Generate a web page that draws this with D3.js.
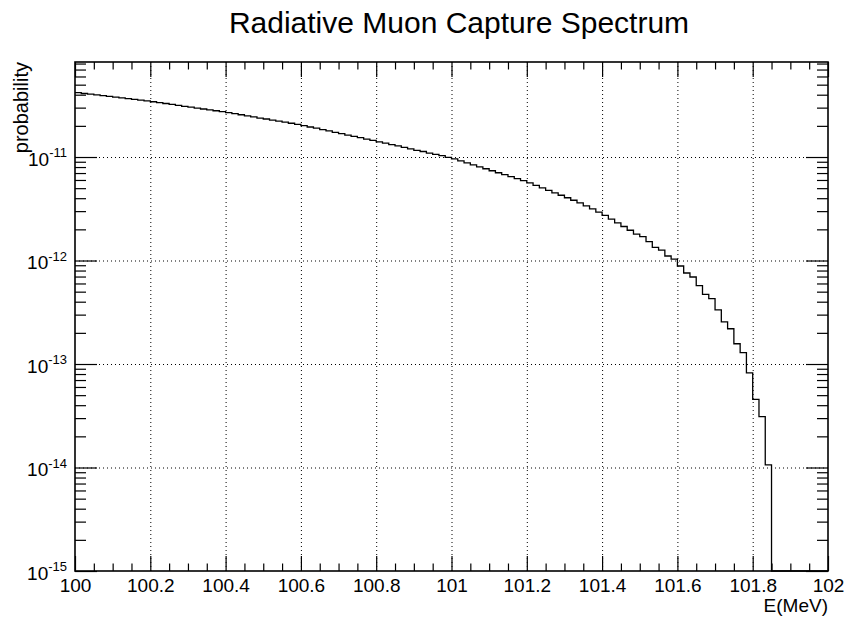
<!DOCTYPE html>
<html>
<head>
<meta charset="utf-8">
<script src="https://cdn.jsdelivr.net/npm/d3@7"></script>
<style>
  html, body { margin: 0; padding: 0; background: #fff; }
  svg { display: block; font-family: "Liberation Sans", Arial, Helvetica, sans-serif; }
  .grid line { stroke: #000; stroke-width: 1; stroke-dasharray: 1 3; }
  .grid .domain, .ticks .domain, .labels .domain { display: none; }
  .ticks line { stroke: #000; stroke-width: 1.2; }
</style>
</head>
<body>
<svg id="chart" width="846" height="623"></svg>
<script>
// Spectrum: 120 bins between 100 and 102 MeV
const chartTitle = "Radiative Muon Capture Spectrum";
const xTitle = "E(MeV)";
const yTitle = "probability";
const energyRange = [100, 102];
const binCount = 120;
const probability = [
  4.18e-11, 4.11e-11, 4.05e-11, 3.98e-11, 3.92e-11, 3.85e-11, 3.79e-11, 3.73e-11, 3.66e-11, 3.60e-11,
  3.54e-11, 3.49e-11, 3.42e-11, 3.35e-11, 3.29e-11, 3.22e-11, 3.16e-11, 3.09e-11, 3.03e-11, 2.97e-11,
  2.91e-11, 2.86e-11, 2.80e-11, 2.74e-11, 2.68e-11, 2.62e-11, 2.56e-11, 2.50e-11, 2.44e-11, 2.38e-11,
  2.33e-11, 2.27e-11, 2.22e-11, 2.17e-11, 2.12e-11, 2.07e-11, 2.01e-11, 1.95e-11, 1.90e-11, 1.84e-11,
  1.79e-11, 1.73e-11, 1.68e-11, 1.63e-11, 1.58e-11, 1.54e-11, 1.49e-11, 1.45e-11, 1.40e-11, 1.36e-11,
  1.32e-11, 1.28e-11, 1.24e-11, 1.20e-11, 1.16e-11, 1.13e-11, 1.09e-11, 1.06e-11, 1.03e-11, 9.94e-12,
  9.58e-12, 9.17e-12, 8.78e-12, 8.40e-12, 8.04e-12, 7.70e-12, 7.37e-12, 7.05e-12, 6.75e-12, 6.46e-12,
  6.19e-12, 5.92e-12, 5.63e-12, 5.33e-12, 5.04e-12, 4.77e-12, 4.51e-12, 4.27e-12, 4.04e-12, 3.82e-12,
  3.61e-12, 3.37e-12, 3.15e-12, 2.94e-12, 2.73e-12, 2.51e-12, 2.31e-12, 2.13e-12, 1.96e-12, 1.80e-12,
  1.70e-12, 1.52e-12, 1.34e-12, 1.26e-12, 1.105e-12, 1.03e-12, 8.85e-13, 7.57e-13, 6.93e-13, 5.71e-13,
  4.71e-13, 4.28e-13, 3.33e-13, 2.55e-13, 2.19e-13, 1.57e-13, 1.29e-13, 8.2e-14, 4.56e-14, 3.1e-14,
  1.06e-14, 0, 0, 0, 0, 0, 0, 0, 0, 0
];
const xTickValues = [100, 100.2, 100.4, 100.6, 100.8, 101, 101.2, 101.4, 101.6, 101.8, 102];
const xTickLabels = ["100", "100.2", "100.4", "100.6", "100.8", "101", "101.2", "101.4", "101.6", "101.8", "102"];
const yDecadeExponents = [-15, -14, -13, -12, -11];
const yRange = [1e-15, 8.28e-11];

const svg = d3.select("#chart");
const margin = { left: 75, right: 18, top: 62, bottom: 52 };
const W = 846 - margin.left - margin.right;
const H = 623 - margin.top - margin.bottom;

const x = d3.scaleLinear().domain(energyRange).range([0, W]);
const y = d3.scaleLog().domain(yRange).range([H, 0]);

const g = svg.append("g").attr("transform", `translate(${margin.left},${margin.top})`);

// tick positions
const yMajor = yDecadeExponents.map(e => Math.pow(10, e));
const yMinor = [];
yDecadeExponents.forEach(e => {
  for (let m = 2; m <= 9; m++) {
    const v = m * Math.pow(10, e);
    if (v <= yRange[1]) yMinor.push(v);
  }
});
const xMinor = d3.range(0, 41).filter(i => i % 4 !== 0).map(i => energyRange[0] + i * 0.05);

// dotted grid at interior major ticks
g.append("g").attr("class", "grid")
  .call(d3.axisBottom(x).tickValues(xTickValues.slice(1, -1)).tickSize(H).tickFormat(""));
g.append("g").attr("class", "grid")
  .call(d3.axisLeft(y).tickValues(yMajor.slice(1)).tickSize(-W).tickFormat(""));

// inward ticks on all four sides
const tickAxes = [
  [d3.axisBottom(x).tickValues(xTickValues), 15, `translate(0,${H})`],
  [d3.axisBottom(x).tickValues(xMinor), 7.5, `translate(0,${H})`],
  [d3.axisTop(x).tickValues(xTickValues), 15, null],
  [d3.axisTop(x).tickValues(xMinor), 7.5, null],
  [d3.axisLeft(y).tickValues(yMajor), 22, null],
  [d3.axisLeft(y).tickValues(yMinor), 11, null],
  [d3.axisRight(y).tickValues(yMajor), 22, `translate(${W},0)`],
  [d3.axisRight(y).tickValues(yMinor), 11, `translate(${W},0)`]
];
tickAxes.forEach(([ax, len, tr]) => {
  const sel = g.append("g").attr("class", "ticks");
  if (tr) sel.attr("transform", tr);
  sel.call(ax.tickSize(-len).tickFormat(""));
});

// histogram outline
const pts = probability.map((v, i) => [energyRange[0] + i * (energyRange[1] - energyRange[0]) / binCount, v]);
pts.push([energyRange[1], probability[binCount - 1]]);
const line = d3.line()
  .x(d => x(d[0]))
  .y(d => d[1] > 0 ? y(d[1]) : H)
  .curve(d3.curveStepAfter);
g.append("path")
  .attr("d", line(pts))
  .attr("fill", "none")
  .attr("stroke", "#000")
  .attr("stroke-width", 1.3);

// frame
g.append("rect")
  .attr("x", 0).attr("y", 0).attr("width", W).attr("height", H)
  .attr("fill", "none").attr("stroke", "#000").attr("stroke-width", 1.6);

// x labels
const xl = g.append("g").attr("class", "labels").attr("transform", `translate(0,${H})`)
  .call(d3.axisBottom(x).tickValues(xTickValues).tickSize(0)
    .tickFormat((d, i) => xTickLabels[i]));
xl.selectAll("text")
  .attr("y", 21).attr("dy", 0)
  .attr("font-size", 19).attr("font-family", "Liberation Sans, Arial, sans-serif")
  .attr("fill", "#000");

// y labels as 10 with superscript exponent
const yl = g.append("g").attr("class", "labels")
  .selectAll("text").data(yDecadeExponents).join("text")
  .attr("x", -8)
  .attr("y", e => y(Math.pow(10, e)) + 8.5)
  .attr("text-anchor", "end")
  .attr("fill", "#000");
yl.append("tspan").attr("font-size", 19).text("10");
yl.append("tspan").attr("font-size", 13).attr("dy", -8.5).text(e => String(e));

// titles
svg.append("text")
  .attr("x", 459).attr("y", 33)
  .attr("text-anchor", "middle")
  .attr("font-size", 30)
  .attr("fill", "#000")
  .text(chartTitle);

svg.append("text")
  .attr("x", margin.left + W).attr("y", 612)
  .attr("text-anchor", "end")
  .attr("font-size", 19)
  .attr("fill", "#000")
  .text(xTitle);

svg.append("text")
  .attr("transform", `translate(28,${margin.top}) rotate(-90)`)
  .attr("text-anchor", "end")
  .attr("font-size", 20)
  .attr("fill", "#000")
  .text(yTitle);
</script>
</body>
</html>
